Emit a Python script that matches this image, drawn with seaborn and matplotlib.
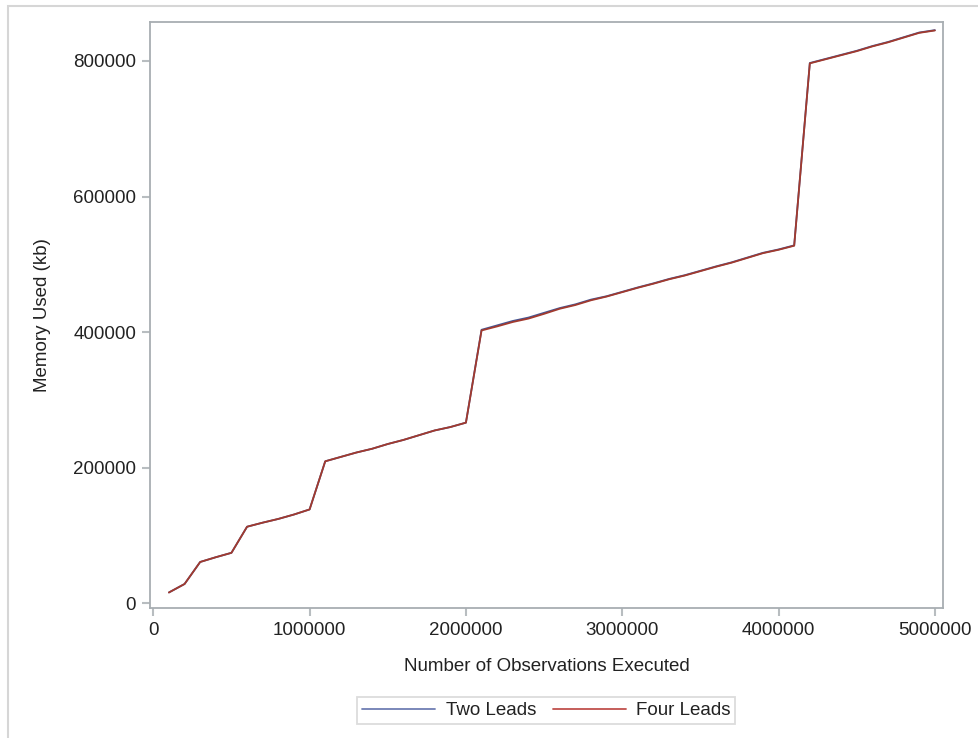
import matplotlib
matplotlib.use("Agg")
import matplotlib.pyplot as plt
import seaborn as sns
import pandas as pd
from matplotlib.lines import Line2D
from matplotlib.patches import Rectangle

# Observations executed (x) and memory used in kb for each lead count
observations = [
    100000, 200000, 300000, 400000, 500000, 600000, 700000, 800000, 900000, 1000000,
    1100000, 1200000, 1300000, 1400000, 1500000, 1600000, 1700000, 1800000, 1900000, 2000000,
    2100000, 2200000, 2300000, 2400000, 2500000, 2600000, 2700000, 2800000, 2900000, 3000000,
    3100000, 3200000, 3300000, 3400000, 3500000, 3600000, 3700000, 3800000, 3900000, 4000000,
    4100000, 4200000, 4300000, 4400000, 4500000, 4600000, 4700000, 4800000, 4900000, 5000000,
]
two_leads = [
    16000, 28500, 61000, 68000, 74500, 113000, 119000, 124500, 131000, 138500,
    209500, 216000, 222500, 228000, 235000, 241000, 248000, 255000, 260000, 266500,
    403500, 410000, 416500, 421500, 428500, 435500, 441000, 448000, 453000, 459500,
    466000, 472000, 478500, 484000, 490500, 497000, 503000, 510000, 517000, 522000,
    528000, 797000, 803000, 809000, 815000, 822000, 828000, 835000, 842000, 845500,
]
four_leads = [
    16000, 28500, 61000, 68000, 74500, 113000, 119000, 124500, 131000, 138500,
    209500, 216000, 222500, 228000, 235000, 241000, 248000, 255000, 260000, 266500,
    402500, 408500, 415000, 420000, 427000, 434500, 440000, 447000, 452500, 459000,
    465500, 471500, 478000, 483500, 490000, 496500, 502500, 509500, 516500, 521500,
    527500, 796500, 802500, 808500, 814500, 821500, 827500, 834500, 841500, 845000,
]
series_names = ["Two Leads", "Four Leads"]
series_colors = ["#445694", "#A23A2E"]

x_ticks = [0, 1000000, 2000000, 3000000, 4000000, 5000000]
y_ticks = [0, 200000, 400000, 600000, 800000]

df = pd.DataFrame({
    "obs": observations * 2,
    "mem": two_leads + four_leads,
    "series": [series_names[0]] * len(observations) + [series_names[1]] * len(observations),
})

sns.set_theme(style="white")
plt.rcParams["font.family"] = ["Liberation Sans", "DejaVu Sans"]

W, H = 979, 738
fig = plt.figure(figsize=(W / 100, H / 100), dpi=100)
ax = fig.add_axes([150 / W, 1 - 608 / H, (943 - 150) / W, (608 - 22) / H])

sns.lineplot(data=df, x="obs", y="mem", hue="series", hue_order=series_names,
             palette=series_colors, linewidth=1.3, ax=ax, legend=False)

ax.set_xlim(-21000, 5052000)
ax.set_ylim(-6900, 857500)
ax.set_xticks(x_ticks)
ax.set_xticklabels([str(v) for v in x_ticks])
ax.set_yticks(y_ticks)
ax.set_yticklabels([str(v) for v in y_ticks])

frame_color = "#A8AEB2"
tick_color = "#B8BDC0"
text_color = "#222222"
for side in ax.spines.values():
    side.set_color(frame_color)
    side.set_linewidth(1.3)
ax.tick_params(axis="both", which="major", length=6, width=1.5, color=tick_color,
               labelsize=13.5, labelcolor=text_color, pad=4, bottom=True, left=True)

ax.set_xlabel("Number of Observations Executed", fontsize=13.5, color=text_color, labelpad=14)
ax.set_ylabel("Memory Used (kb)", fontsize=13.5, color=text_color, labelpad=16)

handles = [Line2D([0], [0], color=c, lw=1.3) for c in ["#6F7EB3", "#C0504D"]]
leg = fig.legend(handles, series_names, loc="center", bbox_to_anchor=(546.5 / W, 1 - 710.5 / H),
                 ncol=2, frameon=True, fancybox=False, fontsize=13.5, handlelength=3.9,
                 handletextpad=0.55, columnspacing=0.9, borderpad=0.25,
                 edgecolor="#D3D3D3", labelcolor=text_color)
leg.get_frame().set_linewidth(1.3)

# Outer panel border (left and top edges visible)
fig.add_artist(Rectangle((8 / W, -0.05), 1.2, 1 - 6 / H + 0.05, transform=fig.transFigure,
                         fill=False, edgecolor="#D6D6D6", linewidth=1.5))

fig.savefig("out.png", dpi=100, facecolor="white")
